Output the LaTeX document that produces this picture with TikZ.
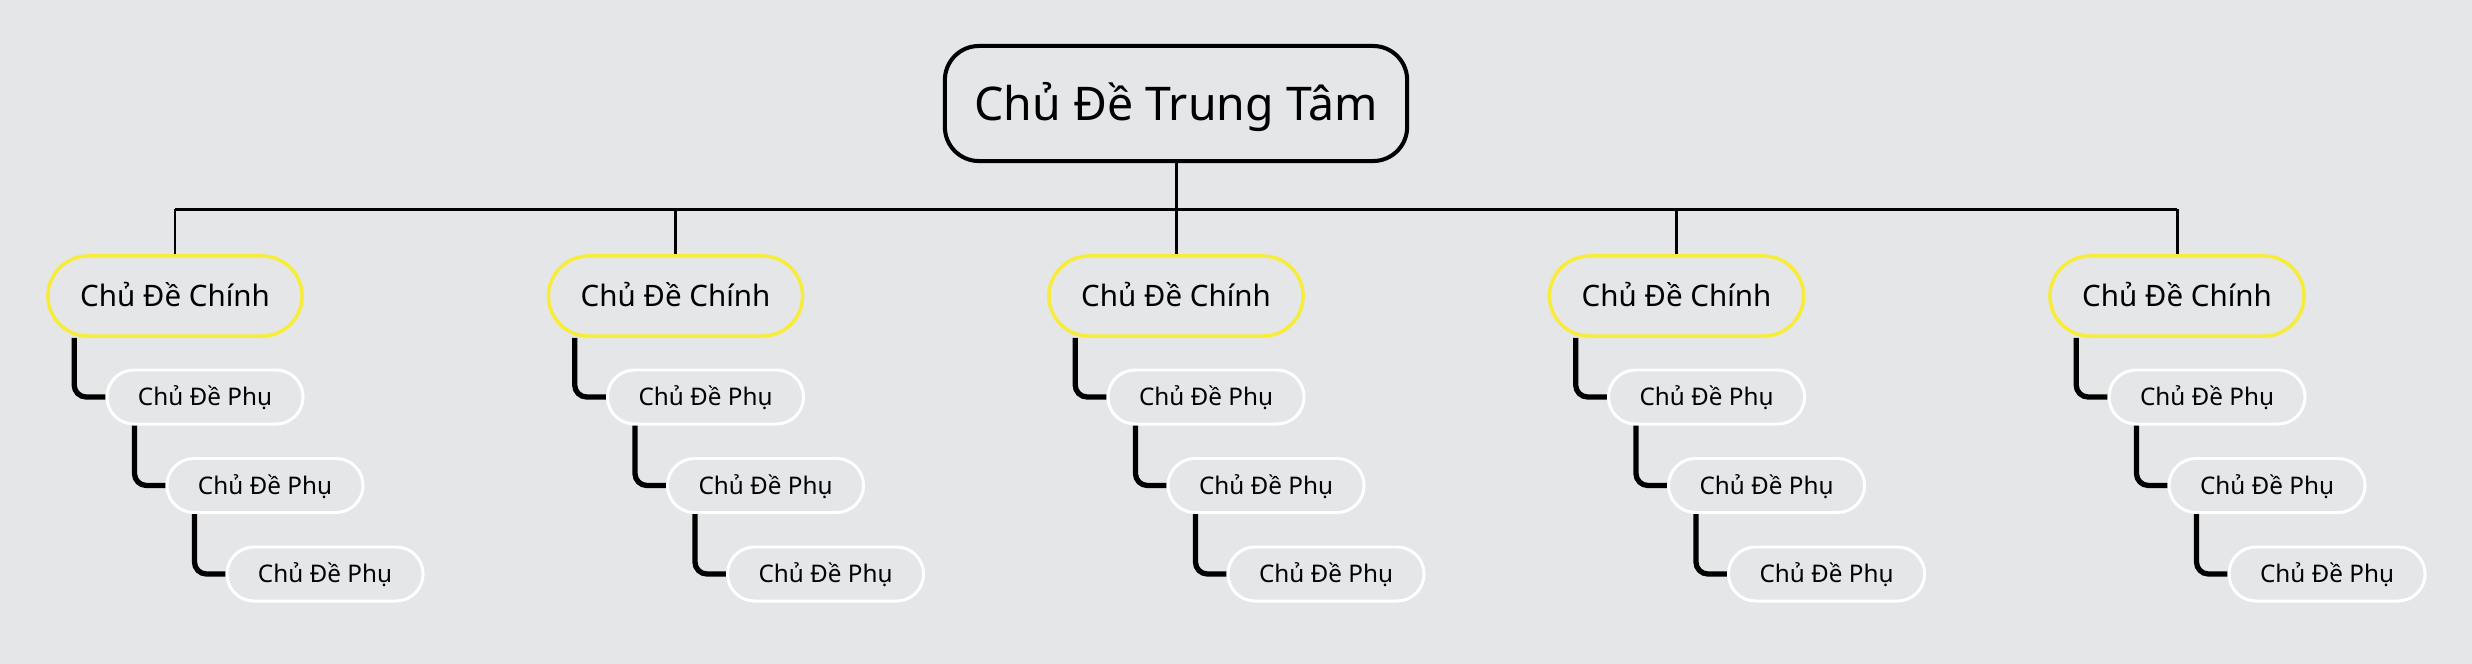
\documentclass[tikz,border=0pt]{standalone}
\usepackage{fontspec}
\setmainfont{Noto Sans}
\definecolor{nen}{HTML}{E5E6E8}
\definecolor{vang}{HTML}{F7EC3A}
\tikzset{
  trungtam/.style={draw=black, line width=1.15pt, rounded corners=0.34cm,
    minimum width=4.62cm, minimum height=1.15cm, text height=9.4pt, text depth=0pt,
    font=\fontsize{13.2}{15}\selectfont},
  chinh/.style={draw=vang, line width=1pt, rounded corners=0.4cm,
    minimum width=2.54cm, minimum height=0.8cm, text height=6pt, text depth=0pt,
    font=\fontsize{8.4}{10}\selectfont},
  phu/.style={draw=white, line width=0.85pt, rounded corners=0.27cm,
    minimum width=1.96cm, minimum height=0.54cm, text height=4.9pt, text depth=0pt,
    font=\fontsize{6.9}{8}\selectfont},
  cay/.style={line width=0.85pt},
  nhanh/.style={line width=1.5pt, rounded corners=0.12cm},
}
\begin{document}
\begin{tikzpicture}[x=0.01cm,y=-0.01cm]
    \useasboundingbox (0,0) rectangle (2472,663);
    \fill[nen] (-5,-5) rectangle (2477,668);
    \node[trungtam] (tt) at (1176,103.5) {Chủ Đề Trung Tâm};
    \coordinate (ngang) at (1176,209);
    \foreach \i in {0,...,4} {
      \node[chinh] (c\i) at ({175+500.5*\i},296) {Chủ Đề Chính};
      \node[phu] (p\i-1) at ({205+500.5*\i},397) {Chủ Đề Phụ};
      \node[phu] (p\i-2) at ({265+500.5*\i},485.5) {Chủ Đề Phụ};
      \node[phu] (p\i-3) at ({325+500.5*\i},574) {Chủ Đề Phụ};
      \draw[cay] (c\i.north) -- (c\i.north |- ngang);
      \draw[nhanh] ([xshift=0.28cm]c\i.south west) |- (p\i-1.west);
      \draw[nhanh] ([xshift=0.29cm]p\i-1.south west) |- (p\i-2.west);
      \draw[nhanh] ([xshift=0.29cm]p\i-2.south west) |- (p\i-3.west);
    }
    \draw[cay] (tt.south) -- (ngang);
    \draw[cay] (c0.north |- ngang) -- (c4.north |- ngang);
  \end{tikzpicture}
\end{document}
